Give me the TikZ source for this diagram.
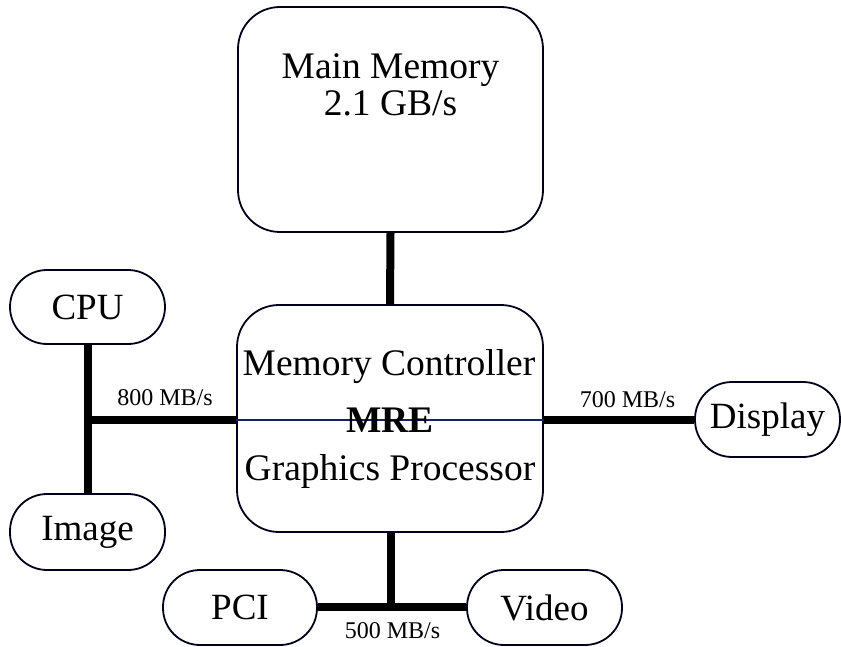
\documentclass[tikz,border=0pt]{standalone}
\usepackage{fontspec}
\setmainfont{Liberation Serif}
\begin{document}
\begin{tikzpicture}[x=1pt,y=-1pt,
  bigbox/.style={draw=black!90!blue, line width=1.8pt, rounded corners=42pt, fill=white, inner sep=0pt},
  pill/.style={draw=black!90!blue, line width=1.8pt, rounded corners=37pt, fill=white, inner sep=0pt,
     font=\fontsize{37}{38}\selectfont},
  bus/.style={line width=8pt},
  thinbus/.style={line width=1.4pt, draw={rgb,1:red,0.1;green,0.12;blue,0.4}},
  bigtext/.style={font=\fontsize{37.5}{37}\selectfont, align=center, inner sep=0pt},
  rate/.style={font=\fontsize{24}{25}\selectfont, inner sep=0pt, anchor=base}]
\useasboundingbox (0,0) rectangle (841,647);
\fill[white] (0,0) rectangle (841,647);

\node[bigbox, minimum width=305pt, minimum height=225pt] (mem) at (390.5,119.5) {};
\node[bigbox, minimum width=306pt, minimum height=227pt] (ctrl) at (390,418.5) {};
\node[pill, minimum width=155pt, minimum height=74pt] (cpu) at (87.5,307) {CPU};
\node[pill, minimum width=155pt, minimum height=76pt] (image) at (87.5,532) {Image};
\node[pill, minimum width=145pt, minimum height=75pt] (display) at (767.5,419.5) {Display};
\node[pill, minimum width=154pt, minimum height=75pt] (pci) at (240,607.5) {PCI};
\node[pill, minimum width=155pt, minimum height=75pt] (video) at (544.5,607.5) {Video};

\coordinate (j1) at (87.5,420);
\coordinate (j2) at (391,607);

\draw[bus] (mem.south) -- (ctrl.north);
\draw[bus] (cpu.south) -- (image.north);
\draw[bus] (j1) -- (j1 -| ctrl.west);
\draw[thinbus] (j1 -| ctrl.west) -- (j1 -| ctrl.east);
\draw[bus] (j1 -| ctrl.east) -- (j1 -| display.west);
\draw[bus] (ctrl.south -| j2) -- (j2);
\draw[bus] (pci.east |- j2) -- (video.west |- j2);

\node[bigtext] (memt) at (390.5,85) {Main Memory\\2.1 GB/s};
\node[bigtext, anchor=base] (mc) at (389,375) {Memory Controller};
\node[bigtext, anchor=base] (mre) at (390,432) {\bfseries MRE};
\node[bigtext, anchor=base] (gp) at (390,480) {Graphics Processor};

\node[rate] (r800) at (165,405) {800 MB/s};
\node[rate] (r700) at (627.5,407) {700 MB/s};
\node[rate] (r500) at (392.5,638) {500 MB/s};
\end{tikzpicture}
\end{document}
